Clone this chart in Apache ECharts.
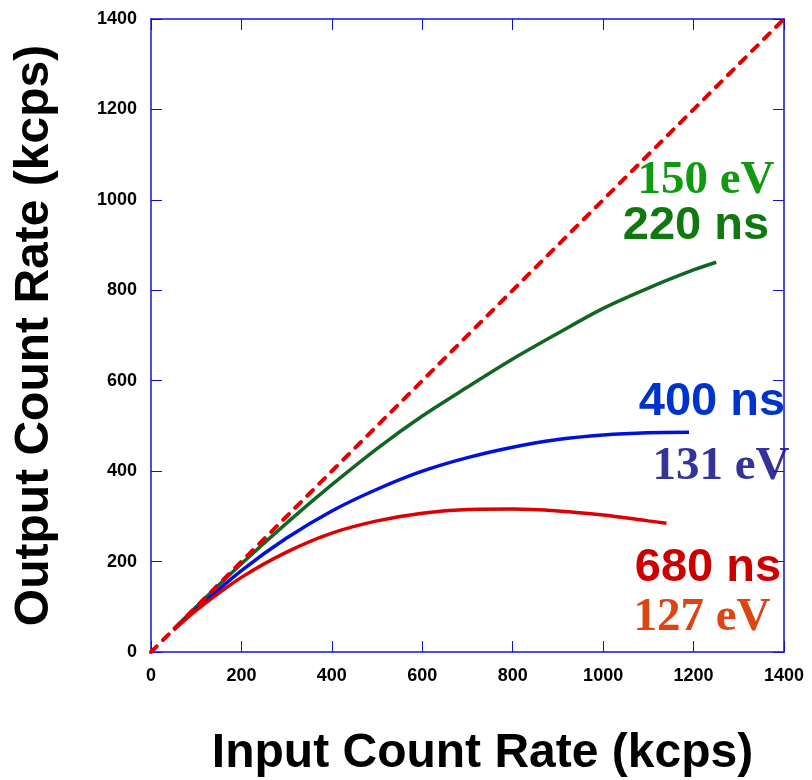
<!DOCTYPE html>
<html>
<head>
<meta charset="utf-8">
<script src="https://cdn.jsdelivr.net/npm/echarts@6/dist/echarts.min.js"></script>
<style>
  html, body { margin: 0; padding: 0; background: #fff; }
  #chart { width: 812px; height: 780px; }
</style>
</head>
<body>
<div id="chart"></div>
<script>
// input count rate (kcps) vs output count rate (kcps)
var green220 = [[50, 50], [100, 100], [200, 195], [300, 285], [400, 370], [500, 450], [600, 522], [700, 586], [800, 648], [900, 705], [1000, 760], [1100, 805], [1200, 845], [1250, 862]];
var blue400 = [[50, 50], [100, 95], [200, 180], [300, 252], [400, 312], [500, 360], [600, 400], [700, 430], [800, 453], [900, 470], [1000, 480], [1100, 485], [1190, 486]];
var red680 = [[50, 48], [100, 92], [200, 165], [300, 221], [400, 263], [500, 290], [600, 307], [700, 315], [800, 316], [900, 312], [1000, 303], [1100, 290], [1140, 285]];
var ideal = [[0, 0], [1400, 1400]];

var axisBlue = "#1010dd";
var sansFont = "Arial, 'Liberation Sans', sans-serif";
var serifFont = "'Liberation Serif', 'Times New Roman', serif";
var chartDom = document.getElementById("chart");
var chart = echarts.init(chartDom, null, { renderer: "canvas" });

var labelFont = { color: "#000", fontFamily: sansFont, fontWeight: "bold", fontSize: 18, formatter: function (v) { return String(v); } };

function mirrorAxis(pos) {
	return {
		type: "value", position: pos, min: 0, max: 1400, interval: 200,
		axisLine: { show: true, onZero: false, lineStyle: { color: axisBlue, width: 1.5 } },
		axisTick: { show: true, inside: true, length: 11, lineStyle: { color: axisBlue, width: 1 } },
		axisLabel: { show: false },
		splitLine: { show: false },
	};
}

var option = {
	animation: false,
	grid: { left: 151, top: 19, width: 633, height: 633, containLabel: false, outerBoundsMode: "none" },
	xAxis: [
		{
			type: "value", min: 0, max: 1400, interval: 200,
			name: "Input Count Rate (kcps)", nameLocation: "middle", nameGap: 78,
			nameTextStyle: { color: "#000", fontFamily: sansFont, fontWeight: "bold", fontSize: 48, padding: [0, 0, 0, 30] },
			axisLine: { onZero: false, lineStyle: { color: axisBlue, width: 1.5 } },
			axisTick: { inside: true, length: 11, lineStyle: { color: axisBlue, width: 1 } },
			axisLabel: Object.assign({ margin: 15 }, labelFont),
			splitLine: { show: false },
		},
		mirrorAxis("top"),
	],
	yAxis: [
		{
			type: "value", min: 0, max: 1400, interval: 200,
			name: "Output Count Rate (kcps)", nameLocation: "middle", nameGap: 92,
			nameTextStyle: { color: "#000", fontFamily: sansFont, fontWeight: "bold", fontSize: 48 },
			axisLine: { onZero: false, lineStyle: { color: axisBlue, width: 1.5 } },
			axisTick: { inside: true, length: 11, lineStyle: { color: axisBlue, width: 1 } },
			axisLabel: Object.assign({ margin: 14 }, labelFont),
			splitLine: { show: false },
		},
		mirrorAxis("right"),
	],
	series: [
		{
			name: "ideal", type: "line", data: ideal, showSymbol: false, z: 5,
			lineStyle: { color: "#e00000", width: 4, type: [8, 9], cap: "round" },
		},
		{
			name: "220 ns", type: "line", data: green220, showSymbol: false, smooth: 0.3,
			lineStyle: { color: "#116622", width: 3.5 },
		},
		{
			name: "400 ns", type: "line", data: blue400, showSymbol: false, smooth: 0.3,
			lineStyle: { color: "#0010dd", width: 3.5 },
		},
		{
			name: "680 ns", type: "line", data: red680, showSymbol: false, smooth: 0.3,
			lineStyle: { color: "#dd0000", width: 3.5 },
		},
	],
	graphic: [
		{ type: "text", x: 706, y: 181, style: { text: "150 eV", fill: "#119911", font: "bold 47px " + serifFont, align: "center", verticalAlign: "middle" } },
		{ type: "text", x: 696, y: 226, style: { text: "220 ns", fill: "#117711", font: "bold 47px " + sansFont, align: "center", verticalAlign: "middle" } },
		{ type: "text", x: 712, y: 402, style: { text: "400 ns", fill: "#0033cc", font: "bold 47px " + sansFont, align: "center", verticalAlign: "middle" } },
		{ type: "text", x: 721, y: 467, style: { text: "131 eV", fill: "#333399", font: "bold 47px " + serifFont, align: "center", verticalAlign: "middle" } },
		{ type: "text", x: 708, y: 568, style: { text: "680 ns", fill: "#cc0000", font: "bold 47px " + sansFont, align: "center", verticalAlign: "middle" } },
		{ type: "text", x: 702, y: 618, style: { text: "127 eV", fill: "#dd4411", font: "bold 47px " + serifFont, align: "center", verticalAlign: "middle" } },
	],
};

chart.setOption(option);
</script>
</body>
</html>
